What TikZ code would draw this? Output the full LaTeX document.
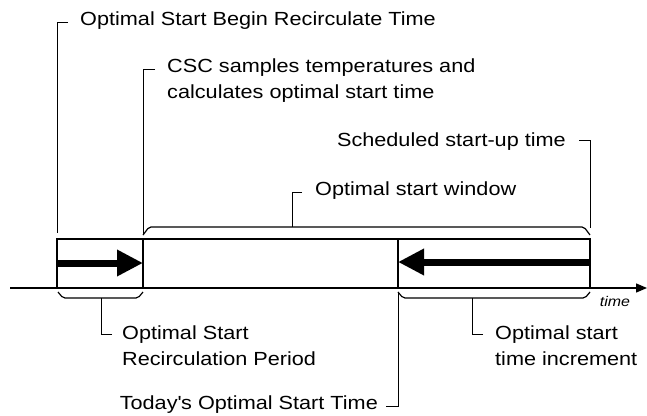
\documentclass[tikz,border=0pt]{standalone}
\usepackage{fontspec}
\setmainfont{Liberation Sans}[FakeStretch=1.14]
\usetikzlibrary{arrows.meta,positioning}

\begin{document}
\begin{tikzpicture}[x=1pt,y=-1pt,
    lbl/.style={font=\fontsize{19}{26}\selectfont, inner sep=0pt, align=left},
    lead/.style={line width=0.8pt},
    frame/.style={line width=1.7pt},
    brace/.style={line width=1.2pt, rounded corners=2pt},
    bigarrow/.style={line width=7pt, -{Triangle[length=26pt,width=25pt]}}]
    \useasboundingbox (0,0) rectangle (647,415);
    % time line and box
    \coordinate (axL) at (10,288);
    \coordinate (axR) at (647,288);
    \coordinate (boxTL) at (57,239);
    \coordinate (boxBR) at (590,288);
    \coordinate (divA) at (143,239);
    \coordinate (divAb) at (143,288);
    \coordinate (divB) at (398,239);
    \coordinate (divBb) at (398,288);
    \draw[line width=1.3pt, -{Triangle[length=11pt,width=9pt]}] (axL) -- (axR);
    \draw[frame] (boxTL) rectangle (boxBR);
    \draw[frame] (divA) -- (divAb);
    \draw[frame] (divB) -- (divBb);
    % thick arrows
    \coordinate (arrA) at (57,263);
    \coordinate (arrAe) at (143,263);
    \coordinate (arrB) at (590,262);
    \coordinate (arrBe) at (398,262);
    \draw[bigarrow] (arrA) -- (arrAe);
    \draw[bigarrow] (arrB) -- (arrBe);
    % braces
    \draw[brace] (143,235) -- (149,227) -- (584,227) -- (590,235);
    \draw[brace] (58,292) -- (63,298) -- (138,298) -- (143,292);
    \draw[brace] (398,292) -- (403,298) -- (585,298) -- (590,292);
    % labels
    \node[lbl, anchor=west] (recirc) at (80,21) {Optimal Start Begin Recirculate Time};
    \node[lbl, anchor=north west] (csc) at (167,59) {CSC samples temperatures and\\calculates optimal start time};
    \node[lbl, anchor=east] (sched) at (566,142) {Scheduled start-up time};
    \node[lbl, anchor=west] (win) at (315,191) {Optimal start window};
    \node[lbl, anchor=north west] (period) at (122,326) {Optimal Start\\Recirculation Period};
    \node[lbl, anchor=north west] (incr) at (495,326) {Optimal start\\time increment};
    \node[lbl, anchor=east] (today) at (378,405) {Today\textquotesingle s Optimal Start Time};
    \node[font=\itshape\fontsize{14}{16}\selectfont, inner sep=0pt] (tlbl) at (615,301) {time};
    % leader lines
    \coordinate (recircT) at (68,22);
    \coordinate (recircB) at (57,233);
    \coordinate (cscT) at (155,69);
    \coordinate (cscB) at (143,235);
    \coordinate (schedT) at (579,140);
    \coordinate (schedB) at (590,228);
    \coordinate (winT) at (302,192);
    \coordinate (winB) at (292,227);
    \coordinate (periodT) at (112,334);
    \coordinate (periodB) at (101,298);
    \coordinate (incrT) at (483,334);
    \coordinate (incrB) at (472,298);
    \coordinate (todayT) at (386,406);
    \coordinate (todayB) at (398,293);
    \draw[lead] (recircT) -| (recircB);
    \draw[lead] (cscT) -| (cscB);
    \draw[lead] (schedT) -| (schedB);
    \draw[lead] (winT) -| (winB);
    \draw[lead] (periodT) -| (periodB);
    \draw[lead] (incrT) -| (incrB);
    \draw[lead] (todayT) -| (todayB);
\end{tikzpicture}
\end{document}
